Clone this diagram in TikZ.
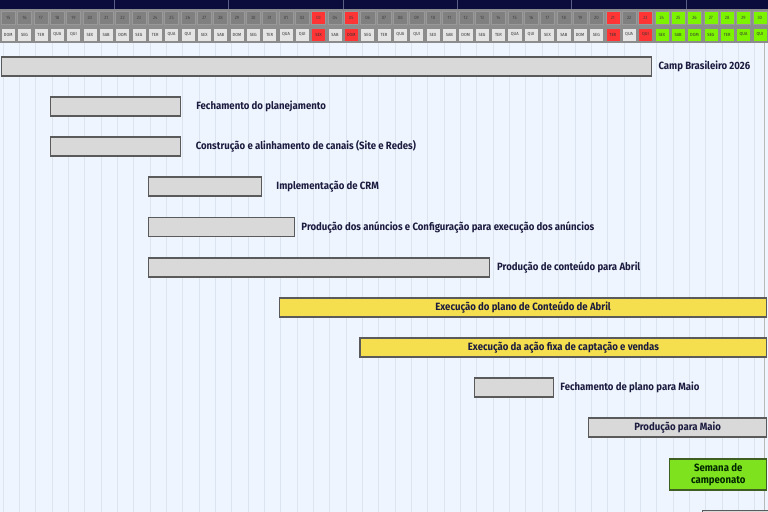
\documentclass[tikz,border=0pt]{standalone}
\usepackage{fontspec}
\setmainfont{Fira Sans}[FakeStretch=0.91]
\usepackage{tikz}
\usetikzlibrary{positioning}
\definecolor{navy}{HTML}{0B0B3C}
\definecolor{navysep}{HTML}{5A5F86}
\definecolor{hdrband}{HTML}{8C8C8C}
\definecolor{numgrey}{HTML}{808080}
\definecolor{wdgrey}{HTML}{E4E4E4}
\definecolor{hotred}{HTML}{FF3535}
\definecolor{limegreen}{HTML}{7CF400}
\definecolor{bgblue}{HTML}{EFF5FE}
\definecolor{gridblue}{HTML}{DCE4F0}
\definecolor{barfill}{HTML}{D9D9D9}
\definecolor{barline}{HTML}{5A5A5A}
\definecolor{yelfill}{HTML}{F6DF4E}
\definecolor{campgreen}{HTML}{7EE21F}
\definecolor{campline}{HTML}{3F5F22}
\definecolor{lbltext}{HTML}{1B1B3F}
\newcommand{\cw}{0.4902cm}
\tikzset{
    numcell/.style={draw=gray!80, fill=numgrey, line width=0.3pt, minimum width=0.86*\cw, minimum height=0.40cm, inner sep=0pt, text=black!75, font=\fontsize{4}{4.5}\selectfont},
    wdcell/.style={draw=gray!90, fill=wdgrey, line width=0.4pt, minimum width=0.86*\cw, minimum height=0.38cm, inner sep=0pt, text=black!80, font=\fontsize{3.8}{4}\selectfont},
    greybar/.style={draw=barline, fill=barfill, line width=1.2pt, inner sep=0pt, minimum height=0.57cm, anchor=west},
    yelbar/.style={draw=barline, fill=yelfill, line width=1.2pt, inner sep=0pt, minimum height=0.57cm, anchor=west, text=lbltext, font=\fontsize{9}{10}\selectfont\bfseries},
    campbar/.style={draw=campline, fill=campgreen, line width=1.2pt, inner sep=0pt, minimum height=0.93cm, anchor=west, align=center, text=black!85!green, font=\fontsize{9}{10.5}\selectfont\bfseries},
    lbl/.style={text=lbltext, inner sep=0pt, anchor=west, font=\fontsize{9}{10}\selectfont\bfseries},
    gridline/.style={draw=gridblue, line width=0.6pt},
}

\begin{document}
\begin{tikzpicture}[x=\cw, y=-0.03cm]

\useasboundingbox (0,0) rectangle (47,512);

% background and day grid
\fill[bgblue] (0,43) rectangle (47,512);
\foreach \k in {0,...,46} {
  \draw[gridline] (\k+0.18,43) -- (\k+0.18,512);
}
\draw[draw=gray!55, line width=1.2pt] (46.8,43) -- (46.8,512);

% header: week bar, day numbers, weekdays
\fill[navy] (0,0) rectangle (47,9.5);
\foreach \k in {7,14,...,42} {
  \draw[navysep, line width=0.8pt] (\k,0) -- (\k,9.5);
}
\fill[hdrband] (0,9.5) rectangle (47,43);
\foreach \d [count=\i from 0] in {15,16,17,18,19,20,21,22,23,24,25,26,27,28,29,30,31,01,02,03,04,05,06,07,08,09,10,11,12,13,14,15,16,17,18,19,20,21,22,23,24,25,26,27,28,29,30} {
  \pgfmathsetmacro{\wkday}{{"DOM","SEG","TER","QUA","QUI","SEX","SAB"}[mod(\i,7)]}
  \def\numfill{numgrey}\def\wdfill{wdgrey}
  \ifnum\i=19 \def\numfill{hotred}\def\wdfill{hotred}\fi
  \ifnum\i=21 \def\numfill{hotred}\def\wdfill{hotred}\fi
  \ifnum\i=37 \def\numfill{hotred}\def\wdfill{hotred}\fi
  \ifnum\i=39 \def\numfill{hotred}\def\wdfill{hotred}\fi
  \ifnum\i>39 \def\numfill{limegreen}\def\wdfill{limegreen}\fi
  \node[numcell, fill=\numfill] (n\i) at (\i+0.5,18) {\d};
  \node[wdcell, fill=\wdfill] (w\i) at (\i+0.5,34.5) {\wkday};
}

% task bars
\node[greybar, minimum width=39.78*\cw] (camp) at (0.06,66.5) {};
\node[lbl, right=5pt of camp] (lcamp) {Camp Brasileiro 2026};

\node[greybar, minimum width=7.96*\cw] (fech) at (3.06,106.5) {};
\node[lbl, right=12.5pt of fech] (lfech) {Fechamento do planejamento};

\node[greybar, minimum width=7.96*\cw] (canais) at (3.06,146.5) {};
\node[lbl, right=12pt of canais] (lcanais) {Construção e alinhamento de canais (Site e Redes)};

\node[greybar, minimum width=6.9*\cw] (crm) at (9.06,186.5) {};
\node[lbl, right=12pt of crm] (lcrm) {Implementação de CRM};

\node[greybar, minimum width=8.93*\cw] (anun) at (9.06,227) {};
\node[lbl, right=5pt of anun] (lanun) {Produção dos anúncios e Configuração para execução dos anúncios};

\node[greybar, minimum width=20.87*\cw] (conteudo) at (9.06,267.5) {};
\node[lbl, right=5.5pt of conteudo] (lconteudo) {Produção de conteúdo para Abril};

\node[yelbar, minimum width=29.8*\cw] (execabr) at (17.07,307.5) {Execução do plano de Conteúdo de Abril};
\node[yelbar, minimum width=24.88*\cw] (acao) at (22,347.5) {Execução da ação fixa de captação e vendas};

\node[greybar, minimum width=4.84*\cw] (planmaio) at (29.0,387.5) {};
\node[lbl, right=5pt of planmaio] (lplanmaio) {Fechamento de plano para Maio};

\node[greybar, minimum width=10.9*\cw, text=lbltext, font=\fontsize{9}{10}\selectfont\bfseries] (prodmaio) at (35.98,427.5) {Produção para Maio};

\node[campbar, minimum width=5.94*\cw] (semana) at (40.94,474.5) {Semana de\\campeonato};

\node[greybar, minimum width=5*\cw] (nextbar) at (42.96,520) {};

\end{tikzpicture}
\end{document}
